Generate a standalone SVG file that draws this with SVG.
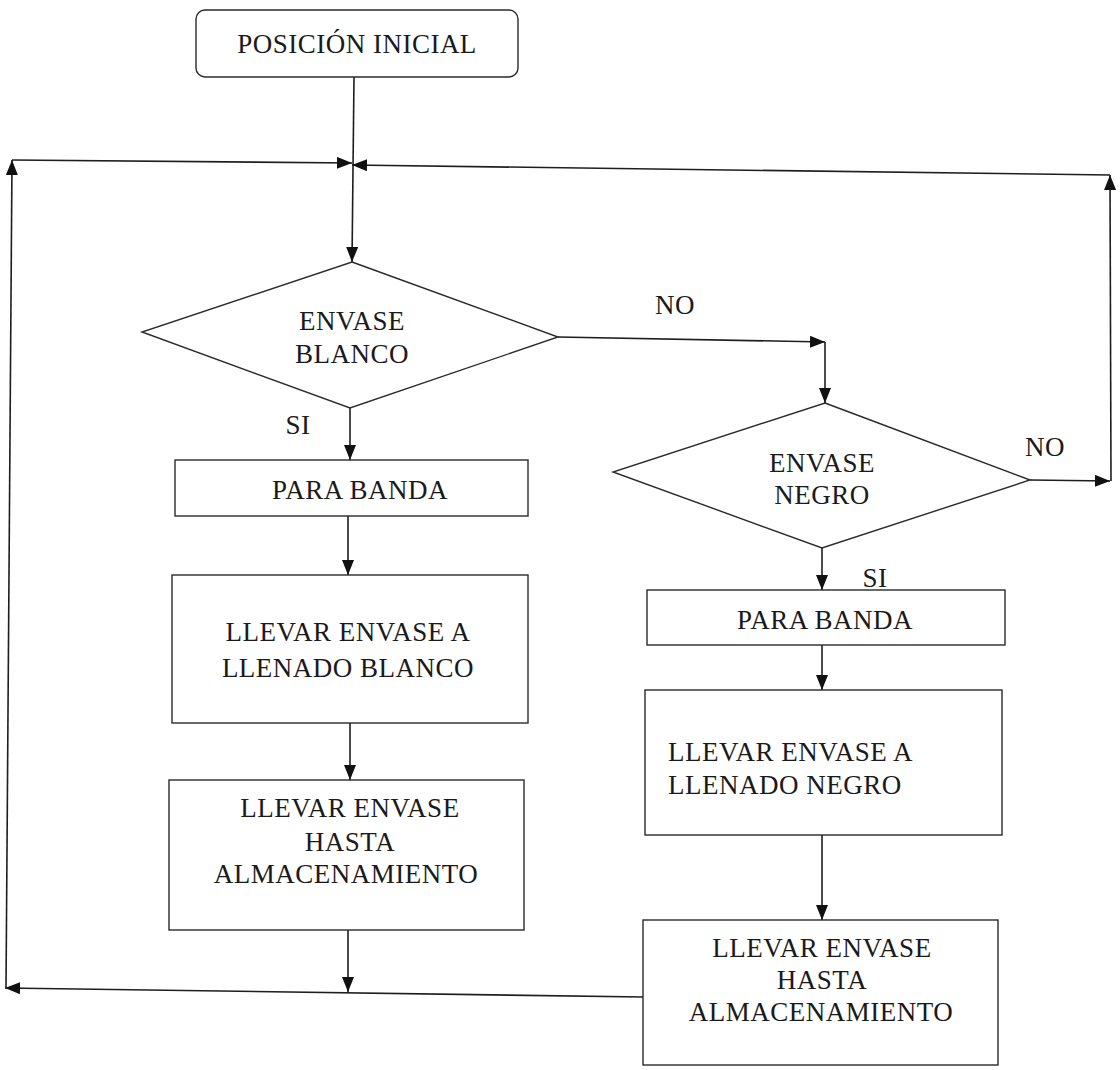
<svg xmlns="http://www.w3.org/2000/svg" width="1120" height="1070" viewBox="0 0 1120 1070">
<style>
  .shape { fill: #ffffff; stroke: #2a2a2a; stroke-width: 1.4; }
  .conn { fill: none; stroke: #1e1e1e; stroke-width: 1.6; }
  text { font-family: "Liberation Serif", "Times New Roman", serif; font-size: 27px; fill: #1a1a1a; letter-spacing: 0.5px; }
  .c { text-anchor: middle; }
</style>
<defs>
  <marker id="arrow" viewBox="0 0 15 12" refX="15" refY="6" markerWidth="15" markerHeight="12" markerUnits="userSpaceOnUse" orient="auto">
    <path d="M0,0 L15,6 L0,12 z" fill="#111111"/>
  </marker>
</defs>
<rect width="1120" height="1070" fill="#ffffff"/>

<g id="connectors">
  <path class="conn" d="M354,77 L352,262" marker-end="url(#arrow)"/>
  <path class="conn" d="M12,160 L352,163" marker-end="url(#arrow)"/>
  <path class="conn" d="M1110,175 L352,165" marker-end="url(#arrow)"/>
  <path class="conn" d="M558,337 L825,342" marker-end="url(#arrow)"/>
  <path class="conn" d="M825,342 L825,403" marker-end="url(#arrow)"/>
  <path class="conn" d="M1030,480 L1110,481" marker-end="url(#arrow)"/>
  <path class="conn" d="M1111,481 L1110,175" marker-end="url(#arrow)"/>
  <path class="conn" d="M350,408 L350,460" marker-end="url(#arrow)"/>
  <path class="conn" d="M348,516 L348,575" marker-end="url(#arrow)"/>
  <path class="conn" d="M350,723 L350,780" marker-end="url(#arrow)"/>
  <path class="conn" d="M348,930 L348,992" marker-end="url(#arrow)"/>
  <path class="conn" d="M643,997 L5,988" marker-end="url(#arrow)"/>
  <path class="conn" d="M6,988 L12,160" marker-end="url(#arrow)"/>
  <path class="conn" d="M822,548 L822,590" marker-end="url(#arrow)"/>
  <path class="conn" d="M822,645 L822,690" marker-end="url(#arrow)"/>
  <path class="conn" d="M822,835 L822,920" marker-end="url(#arrow)"/>
  <text x="675" y="314" class="c">NO</text>
  <text x="1045" y="456" class="c">NO</text>
  <text x="298" y="434" class="c">SI</text>
  <text x="875" y="587" class="c">SI</text>
</g>

<g id="start">
  <rect class="shape" x="196" y="10" width="322" height="67" rx="9" ry="9"/>
  <text x="357" y="53" class="c">POSICIÓN INICIAL</text>
</g>

<g id="decision-blanco">
  <polygon class="shape" points="352,262 558,337 350,408 142,332"/>
  <text x="352" y="330" class="c">ENVASE</text>
  <text x="352" y="363" class="c">BLANCO</text>
</g>

<g id="decision-negro">
  <polygon class="shape" points="825,403 1030,480 822,548 613,472"/>
  <text x="822" y="472" class="c">ENVASE</text>
  <text x="822" y="504" class="c">NEGRO</text>
</g>

<g id="para-banda-blanco">
  <rect class="shape" x="175" y="460" width="353" height="56"/>
  <text x="360" y="499" class="c">PARA BANDA</text>
</g>

<g id="llenado-blanco">
  <rect class="shape" x="172" y="575" width="356" height="148"/>
  <text x="348" y="641" class="c">LLEVAR ENVASE A</text>
  <text x="348" y="677" class="c">LLENADO BLANCO</text>
</g>

<g id="almacenamiento-blanco">
  <rect class="shape" x="169" y="780" width="355" height="150"/>
  <text x="350" y="817" class="c">LLEVAR ENVASE</text>
  <text x="350" y="851" class="c">HASTA</text>
  <text x="346" y="883" class="c">ALMACENAMIENTO</text>
</g>

<g id="para-banda-negro">
  <rect class="shape" x="647" y="590" width="358" height="55"/>
  <text x="825" y="629" class="c">PARA BANDA</text>
</g>

<g id="llenado-negro">
  <rect class="shape" x="645" y="690" width="357" height="145"/>
  <text x="668" y="761">LLEVAR ENVASE A</text>
  <text x="668" y="794">LLENADO NEGRO</text>
</g>

<g id="almacenamiento-negro">
  <rect class="shape" x="643" y="920" width="355" height="145"/>
  <text x="822" y="957" class="c">LLEVAR ENVASE</text>
  <text x="822" y="989" class="c">HASTA</text>
  <text x="821" y="1021" class="c">ALMACENAMIENTO</text>
</g>
</svg>
